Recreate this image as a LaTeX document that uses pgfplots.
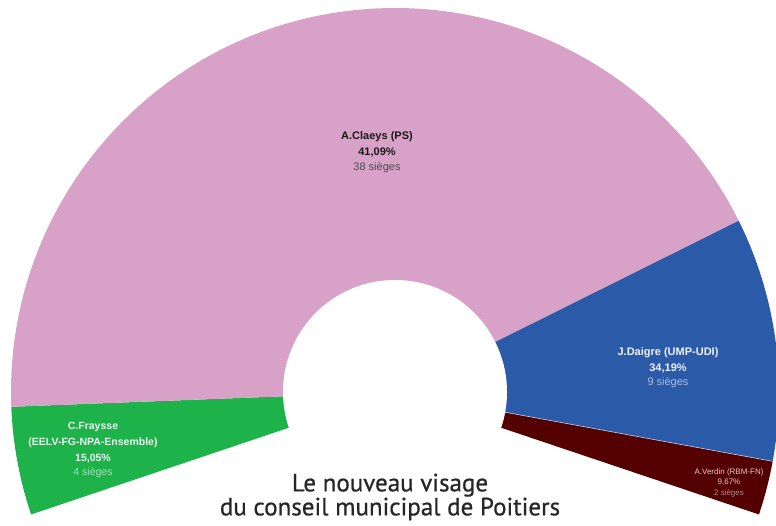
\documentclass[border=0pt]{standalone}
\usepackage{pgfplots}
\pgfplotsset{compat=1.18}
\usepackage{fontspec}
\setmainfont{Liberation Sans}
\newfontfamily\titlefont{PT Sans}[FakeBold=0.6]
\definecolor{cPS}{HTML}{D8A2C8}
\definecolor{cUMP}{HTML}{2B5AA8}
\definecolor{cEELV}{HTML}{1DB34A}
\definecolor{cFN}{HTML}{550000}
% seats per list (order: left to right)
\def\seatsEELV{4}
\def\seatsPS{38}
\def\seatsUMP{9}
\def\seatsFN{2}
\def\totalseats{53}
\def\startangle{198.6}
\def\spanangle{217.2}
\def\cx{395}
\def\cy{134}
\newcommand\sector[3]{%
  \fill[#1] (axis cs:\cx,\cy) -- ++(#2:384pt) arc[start angle=#2,end angle=#3,radius=384pt] -- cycle;}
\begin{document}
\begin{tikzpicture}
\begin{axis}[x=1pt,y=1pt,xmin=0,xmax=776,ymin=0,ymax=526,
  scale only axis,hide axis,clip=true]
\pgfmathsetmacro\u{\spanangle/\totalseats}
\pgfmathsetmacro\aA{\startangle}
\pgfmathsetmacro\aB{\aA-\seatsEELV*\u}
\pgfmathsetmacro\aC{\aB-\seatsPS*\u}
\pgfmathsetmacro\aD{\aC-\seatsUMP*\u}
\pgfmathsetmacro\aE{\aD-\seatsFN*\u}
\begin{scope}
\clip (axis cs:0,0) rectangle (axis cs:776,526);
\sector{cEELV}{\aA}{\aB}
\sector{cPS}{\aB}{\aC}
\sector{cUMP}{\aC}{\aD}
\sector{cFN}{\aD}{\aE}
\draw[white!70!cUMP,line width=0.6pt] (axis cs:\cx,\cy) -- ++(\aD:384pt);
\fill[white] (axis cs:\cx,\cy) circle[radius=112pt];
\end{scope}
\node[font=\fontsize{11}{13}\selectfont\bfseries,text=black!90] at (axis cs:377,389) {A.Claeys (PS)};
\node[font=\fontsize{11}{13}\selectfont\bfseries,text=black!90] at (axis cs:377,373) {41,09\%};
\node[font=\fontsize{11}{13}\selectfont,text=black!70] at (axis cs:377,358) {38 sièges};
\node[font=\fontsize{11}{13}\selectfont\bfseries,text=white!92!cUMP] at (axis cs:668,173) {J.Daigre (UMP-UDI)};
\node[font=\fontsize{11}{13}\selectfont\bfseries,text=white!92!cUMP] at (axis cs:668,157) {34,19\%};
\node[font=\fontsize{11}{13}\selectfont,text=white!60!cUMP] at (axis cs:668,143) {9 sièges};
\node[font=\fontsize{10.5}{13}\selectfont\bfseries,text=white!90!cEELV] at (axis cs:93,99) {C.Fraysse};
\node[font=\fontsize{10.5}{13}\selectfont\bfseries,text=white!90!cEELV] at (axis cs:93,83) {(EELV-FG-NPA-Ensemble)};
\node[font=\fontsize{10.5}{13}\selectfont\bfseries,text=white!90!cEELV] at (axis cs:93,67) {15,05\%};
\node[font=\fontsize{10.5}{13}\selectfont,text=white!60!cEELV] at (axis cs:93,53) {4 sièges};
\node[font=\fontsize{8}{10}\selectfont,text=white!80!cFN] at (axis cs:729,54) {A.Verdin (RBM-FN)};
\node[font=\fontsize{8}{10}\selectfont,text=white!80!cFN] at (axis cs:729,44) {9,67\%};
\node[font=\fontsize{8}{10}\selectfont,text=white!55!cFN] at (axis cs:729,33) {2 sièges};
\node[font=\titlefont\fontsize{25}{19}\selectfont,text=black!85,align=center,inner sep=0pt] at (axis cs:390,29) {Le nouveau visage\\du conseil municipal de Poitiers};
\end{axis}
\end{tikzpicture}
\end{document}
